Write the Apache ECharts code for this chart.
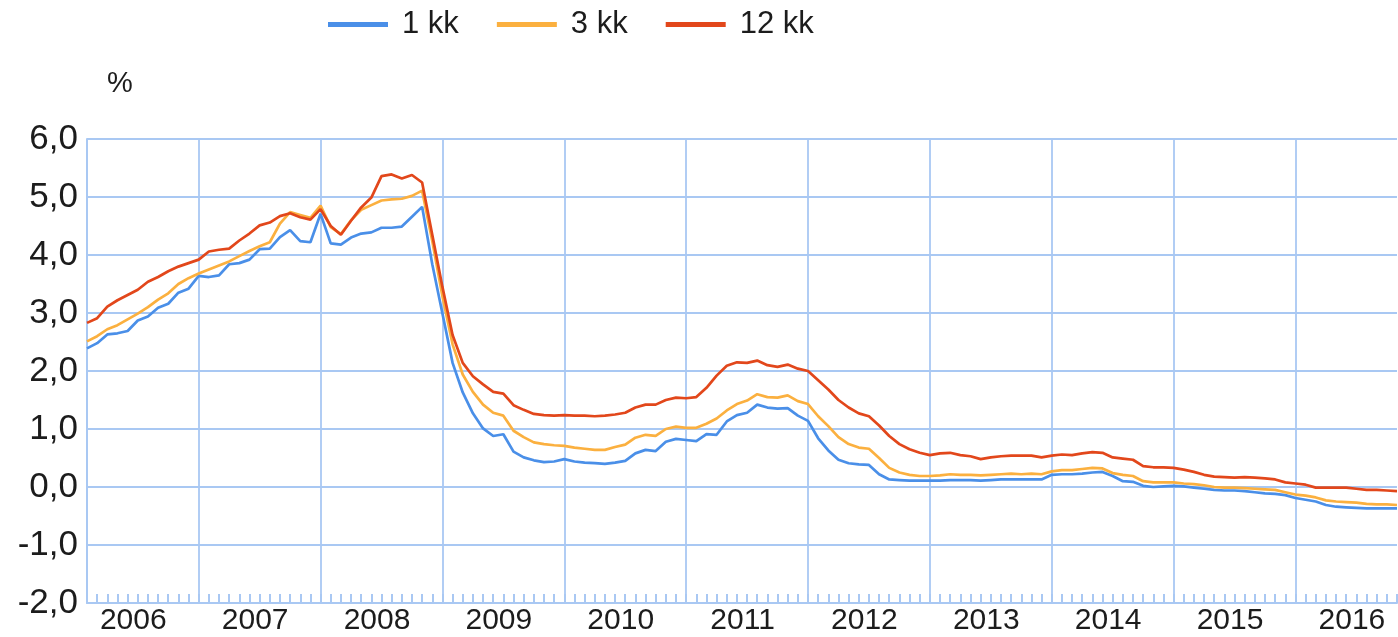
<!DOCTYPE html>
<html>
<head>
<meta charset="utf-8">
<script src="https://cdn.jsdelivr.net/npm/echarts@6/dist/echarts.min.js"></script>
<style>
html,body{margin:0;padding:0;background:#fff;}
#chart{width:1398px;height:637px;}
</style>
</head>
<body>
<div id="chart"></div>
<script>
// Monthly averages Jan 2006 .. Oct 2016, each plotted at the end of its month
const startYear = 2006, startMonth = 2; // first point at 1 Feb 2006
const pointCount = 130;
const seriesNames = ['1 kk', '3 kk', '12 kk'];
const yTicks = [-2, -1, 0, 1, 2, 3, 4, 5, 6];

const oneMonth = [
2.39,2.48,2.63,2.65,2.69,2.87,2.94,3.09,3.16,3.35,3.42,3.64,
3.62,3.65,3.84,3.86,3.92,4.10,4.11,4.31,4.43,4.24,4.22,4.71,
4.20,4.18,4.30,4.37,4.39,4.47,4.47,4.49,4.66,4.83,3.84,2.99,
2.14,1.63,1.27,1.01,0.88,0.91,0.61,0.51,0.46,0.43,0.44,0.48,
0.44,0.42,0.41,0.40,0.42,0.45,0.58,0.64,0.62,0.78,0.83,0.81,
0.79,0.91,0.90,1.13,1.24,1.28,1.42,1.37,1.35,1.36,1.23,1.14,
0.84,0.63,0.47,0.41,0.39,0.38,0.22,0.13,0.12,0.11,0.11,0.11,
0.11,0.12,0.12,0.12,0.11,0.12,0.13,0.13,0.13,0.13,0.13,0.21,
0.22,0.22,0.23,0.25,0.26,0.19,0.10,0.09,0.02,0.00,0.01,0.02,
0.01,-0.01,-0.03,-0.05,-0.06,-0.06,-0.07,-0.09,-0.11,-0.12,-0.14,-0.19,
-0.22,-0.25,-0.31,-0.34,-0.35,-0.36,-0.37,-0.37,-0.37,-0.37];

const threeMonth = [
2.51,2.60,2.72,2.79,2.89,2.99,3.10,3.23,3.34,3.50,3.60,3.68,
3.75,3.82,3.89,3.98,4.07,4.15,4.22,4.54,4.74,4.69,4.64,4.85,
4.48,4.36,4.60,4.78,4.86,4.94,4.96,4.97,5.02,5.11,4.24,3.29,
2.46,1.94,1.64,1.42,1.28,1.23,0.97,0.86,0.77,0.74,0.72,0.71,
0.68,0.66,0.64,0.64,0.69,0.73,0.85,0.90,0.88,1.00,1.04,1.02,
1.02,1.09,1.18,1.32,1.43,1.49,1.60,1.55,1.54,1.58,1.48,1.43,
1.22,1.05,0.86,0.74,0.68,0.66,0.50,0.33,0.25,0.21,0.19,0.19,
0.20,0.22,0.21,0.21,0.20,0.21,0.22,0.23,0.22,0.23,0.22,0.27,
0.29,0.29,0.31,0.33,0.32,0.24,0.21,0.19,0.10,0.08,0.08,0.08,
0.06,0.05,0.03,0.00,-0.01,-0.01,-0.02,-0.03,-0.04,-0.05,-0.09,-0.13,
-0.15,-0.18,-0.23,-0.25,-0.26,-0.27,-0.29,-0.30,-0.30,-0.31];

const twelveMonth = [
2.83,2.91,3.11,3.22,3.31,3.40,3.54,3.62,3.72,3.80,3.86,3.92,
4.06,4.09,4.11,4.25,4.37,4.51,4.56,4.67,4.72,4.65,4.61,4.79,
4.50,4.35,4.59,4.82,4.99,5.36,5.39,5.32,5.38,5.25,4.35,3.45,
2.62,2.14,1.91,1.77,1.64,1.61,1.41,1.33,1.26,1.24,1.23,1.24,
1.23,1.23,1.22,1.23,1.25,1.28,1.37,1.42,1.42,1.50,1.54,1.53,
1.55,1.71,1.92,2.09,2.15,2.14,2.18,2.10,2.07,2.11,2.04,2.00,
1.84,1.68,1.50,1.37,1.27,1.22,1.06,0.88,0.74,0.65,0.59,0.55,
0.58,0.59,0.55,0.53,0.48,0.51,0.53,0.54,0.54,0.54,0.51,0.54,
0.56,0.55,0.58,0.60,0.59,0.51,0.49,0.47,0.36,0.34,0.34,0.33,
0.30,0.26,0.21,0.18,0.17,0.16,0.17,0.16,0.15,0.13,0.08,0.06,
0.04,-0.01,-0.01,-0.01,-0.01,-0.03,-0.05,-0.05,-0.06,-0.07];

// category labels "YYYY-MM" (month start positions)
const categories = [];
for (let i = 0; i < pointCount; i++) {
  const t = (startMonth - 1) + i;
  const y = startYear + Math.floor(t / 12);
  const m = (t % 12) + 1;
  categories.push(y + '-' + (m < 10 ? '0' + m : m));
}

const colors = ['#4a8fe8', '#fbb03f', '#e2471b'];
const gridColor = '#a9c8f3';
const textColor = '#1c1c1c';
const fontFamily = '"Liberation Sans", Arial, sans-serif';

const chart = echarts.init(document.getElementById('chart'), null, {renderer: 'canvas'});
const option = {
  animation: false,
  backgroundColor: '#ffffff',
  color: colors,
  title: {
    text: '%',
    left: 102,
    top: 64,
    textStyle: {fontSize: 29, fontWeight: 'normal', color: textColor, fontFamily: fontFamily}
  },
  legend: {
    data: seriesNames,
    left: 323,
    top: 4,
    icon: 'rect',
    itemWidth: 60,
    itemHeight: 5,
    itemGap: 38,
    textStyle: {fontSize: 31, color: textColor, fontFamily: fontFamily, padding: [0, 0, 0, 9]}
  },
  grid: {left: 87, right: 1, top: 139, bottom: 34, containLabel: false},
  xAxis: {
    type: 'category',
    data: categories,
    boundaryGap: false,
    axisLine: {show: true, onZero: false, lineStyle: {color: gridColor, width: 2}},
    axisTick: {
      show: true, inside: true, length: 9,
      interval: 0,
      lineStyle: {color: gridColor, width: 2}
    },
    axisLabel: {
      interval: function (idx, val) { return val.slice(5) === '07'; },
      formatter: function (val) { return val.slice(0, 4); },
      fontSize: 30, color: textColor, fontFamily: fontFamily,
      margin: 3, padding: [0, 9, 0, 0]
    },
    splitLine: {
      show: true,
      interval: function (idx, val) { return val.slice(5) === '01'; },
      lineStyle: {color: gridColor, width: 1.8}
    }
  },
  yAxis: {
    type: 'value',
    min: yTicks[0],
    max: yTicks[yTicks.length - 1],
    interval: 1,
    axisLine: {show: true, lineStyle: {color: gridColor, width: 2}},
    axisTick: {show: false},
    axisLabel: {
      formatter: function (v) { return v.toFixed(1).replace('.', ','); },
      fontSize: 35, color: textColor, fontFamily: fontFamily, margin: 9
    },
    splitLine: {show: true, lineStyle: {color: gridColor, width: 1.8}}
  },
  series: [
    {name: seriesNames[0], type: 'line', data: oneMonth, showSymbol: false, symbol: 'none', lineStyle: {width: 2.7, color: colors[0]}, z: 3},
    {name: seriesNames[1], type: 'line', data: threeMonth, showSymbol: false, symbol: 'none', lineStyle: {width: 2.7, color: colors[1]}, z: 4},
    {name: seriesNames[2], type: 'line', data: twelveMonth, showSymbol: false, symbol: 'none', lineStyle: {width: 2.7, color: colors[2]}, z: 5}
  ]
};
chart.setOption(option);
</script>
</body>
</html>
